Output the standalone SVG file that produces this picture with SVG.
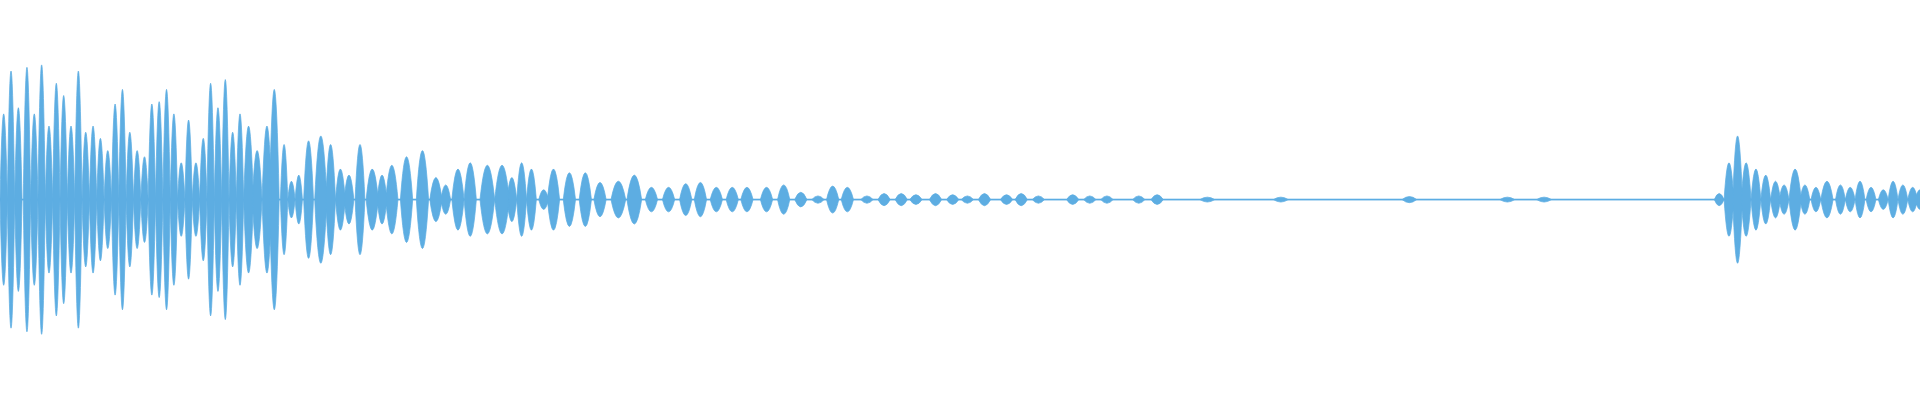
<svg xmlns="http://www.w3.org/2000/svg" width="1920" height="400" viewBox="0 0 1920 400">
<style>.w{fill:#5dade2;stroke:#5dade2;stroke-width:0.6}</style>
<rect width="1920" height="400" fill="#fff"/>
<g id="waveform" transform="scale(1.2245)">
<path class="w" d="M0,162.6h1720v0.8h-1720z"/>
<path class="w" d="
M0,163q3,-140 6,0q-3,140 -6,0z
M6,163q3,-210 6,0q-3,210 -6,0z
M12,163q3,-150 6,0q-3,150 -6,0z
M19,163q3,-216 6,0q-3,216 -6,0z
M25,163q3,-140 6,0q-3,140 -6,0z
M31,163q3,-220 6,0q-3,220 -6,0z
M37,163q3,-120 6,0q-3,120 -6,0z
M43,163q3,-190 6,0q-3,190 -6,0z
M49,163q3,-170 6,0q-3,170 -6,0z
M55,163q3,-120 6,0q-3,120 -6,0z
M61,163q3,-210 6,0q-3,210 -6,0z
M67,163q3,-110 6,0q-3,110 -6,0z
M73,163q3,-120 6,0q-3,120 -6,0z
M79,163q3,-100 6,0q-3,100 -6,0z
M85,163q3,-80 6,0q-3,80 -6,0z
M91,163q3,-156 6,0q-3,156 -6,0z
M97,163q3,-180 6,0q-3,180 -6,0z
M103,163q3,-110 6,0q-3,110 -6,0z
M109,163q3,-80 6,0q-3,80 -6,0z
M115,163q3,-70 6,0q-3,70 -6,0z
M121,163q3,-156 6,0q-3,156 -6,0z
M127,163q3,-160 6,0q-3,160 -6,0z
M133,163q3,-180 6,0q-3,180 -6,0z
M139,163q3,-140 6,0q-3,140 -6,0z
M145,163q3,-60 6,0q-3,60 -6,0z
M151,163q3,-130 6,0q-3,130 -6,0z
M157,163q3,-60 6,0q-3,60 -6,0z
M163,163q3,-100 6,0q-3,100 -6,0z
M169,163q3,-190 6,0q-3,190 -6,0z
M175,163q3,-150 6,0q-3,150 -6,0z
M181,163q3,-196 6,0q-3,196 -6,0z
M187,163q3,-110 6,0q-3,110 -6,0z
M193,163q3,-140 6,0q-3,140 -6,0z
M199,163q4,-120 8,0q-4,120 -8,0z
M206,163q4,-80 8,0q-4,80 -8,0z
M214,163q4,-120 8,0q-4,120 -8,0z
M220,163q4,-180 8,0q-4,180 -8,0z
M229,163q3,-90 6,0q-3,90 -6,0z
M235,163q3,-30 6,0q-3,30 -6,0z
M241,163q3,-40 6,0q-3,40 -6,0z
M248,163q4,-96 8,0q-4,96 -8,0z
M257,163q5,-104 10,0q-5,104 -10,0z
M266,163q4,-90 8,0q-4,90 -8,0z
M274,163q4,-50 8,0q-4,50 -8,0z
M281,163q4,-40 8,0q-4,40 -8,0z
M290,163q4,-90 8,0q-4,90 -8,0z
M299,163q5,-50 10,0q-5,50 -10,0z
M308,163q4,-40 8,0q-4,40 -8,0z
M315,163q5,-56 10,0q-5,56 -10,0z
M327,163q5,-70 10,0q-5,70 -10,0z
M340,163q5,-80 10,0q-5,80 -10,0z
M351,163q5,-36 10,0q-5,36 -10,0z
M360,163q4,-24 8,0q-4,24 -8,0z
M369,163q5,-50 10,0q-5,50 -10,0z
M379,163q5,-60 10,0q-5,60 -10,0z
M392,163q6,-56 12,0q-6,56 -12,0z
M404,163q6,-56 12,0q-6,56 -12,0z
M414,163q4,-36 8,0q-4,36 -8,0z
M422,163q4,-60 8,0q-4,60 -8,0z
M430,163q4,-50 8,0q-4,50 -8,0z
M440,163q4,-16 8,0q-4,16 -8,0z
M447,163q5,-50 10,0q-5,50 -10,0z
M460,163q5,-44 10,0q-5,44 -10,0z
M473,163q5,-44 10,0q-5,44 -10,0z
M485,163q5,-28 10,0q-5,28 -10,0z
M499,163q6,-30 12,0q-6,30 -12,0z
M512,163q6,-40 12,0q-6,40 -12,0z
M527,163q5,-20 10,0q-5,20 -10,0z
M541,163q5,-20 10,0q-5,20 -10,0z
M555,163q5,-26 10,0q-5,26 -10,0z
M567,163q5,-28 10,0q-5,28 -10,0z
M580,163q5,-20 10,0q-5,20 -10,0z
M593,163q5,-20 10,0q-5,20 -10,0z
M605,163q5,-20 10,0q-5,20 -10,0z
M621,163q5,-20 10,0q-5,20 -10,0z
M635,163q5,-24 10,0q-5,24 -10,0z
M649,163q5,-12 10,0q-5,12 -10,0z
M663,163q5,-6 10,0q-5,6 -10,0z
M675,163q5,-22 10,0q-5,22 -10,0z
M687,163q5,-20 10,0q-5,20 -10,0z
M703,163q5,-6 10,0q-5,6 -10,0z
M717,163q5,-10 10,0q-5,10 -10,0z
M731,163q5,-10 10,0q-5,10 -10,0z
M743,163q5,-8 10,0q-5,8 -10,0z
M759,163q5,-10 10,0q-5,10 -10,0z
M773,163q5,-8 10,0q-5,8 -10,0z
M785,163q5,-6 10,0q-5,6 -10,0z
M799,163q5,-10 10,0q-5,10 -10,0z
M817,163q5,-8 10,0q-5,8 -10,0z
M829,163q5,-10 10,0q-5,10 -10,0z
M843,163q5,-6 10,0q-5,6 -10,0z
M871,163q5,-8 10,0q-5,8 -10,0z
M885,163q5,-6 10,0q-5,6 -10,0z
M899,163q5,-6 10,0q-5,6 -10,0z
M925,163q5,-6 10,0q-5,6 -10,0z
M940,163q5,-8 10,0q-5,8 -10,0z
M980,163q6,-4 12,0q-6,4 -12,0z
M1040,163q6,-4 12,0q-6,4 -12,0z
M1145,163q6,-5 12,0q-6,5 -12,0z
M1225,163q6,-4 12,0q-6,4 -12,0z
M1255,163q6,-4 12,0q-6,4 -12,0z
M1400,163q4,-10 8,0q-4,10 -8,0z
M1408,163q4,-60 8,0q-4,60 -8,0z
M1415,163q4,-104 8,0q-4,104 -8,0z
M1422,163q4,-60 8,0q-4,60 -8,0z
M1430,163q4,-50 8,0q-4,50 -8,0z
M1438,163q4,-40 8,0q-4,40 -8,0z
M1446,163q4,-30 8,0q-4,30 -8,0z
M1453,163q4,-24 8,0q-4,24 -8,0z
M1461,163q5,-50 10,0q-5,50 -10,0z
M1470,163q4,-24 8,0q-4,24 -8,0z
M1479,163q4,-20 8,0q-4,20 -8,0z
M1487,163q5,-30 10,0q-5,30 -10,0z
M1499,163q4,-24 8,0q-4,24 -8,0z
M1507,163q4,-20 8,0q-4,20 -8,0z
M1515,163q4,-30 8,0q-4,30 -8,0z
M1524,163q4,-20 8,0q-4,20 -8,0z
M1534,163q4,-16 8,0q-4,16 -8,0z
M1542,163q4,-30 8,0q-4,30 -8,0z
M1550,163q4,-24 8,0q-4,24 -8,0z
M1558,163q4,-20 8,0q-4,20 -8,0z
M1564,163q4,-16 8,0q-4,16 -8,0z"/>
</g>
</svg>
